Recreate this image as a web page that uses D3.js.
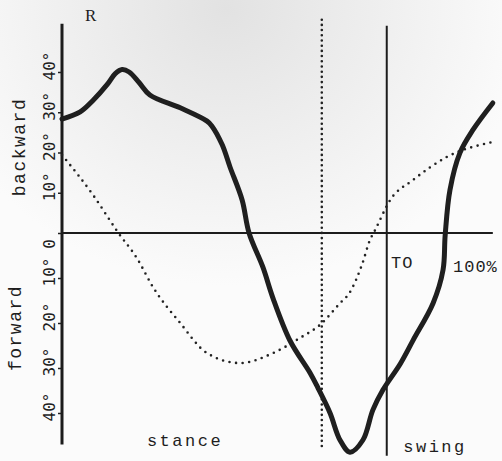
<!DOCTYPE html>
<html>
<head>
<meta charset="utf-8">
<script src="https://cdn.jsdelivr.net/npm/d3@7"></script>
<style>
  body { margin: 0; background: #fff; }
  svg { display: block; }
  text { font-family: "Liberation Mono", "DejaVu Sans Mono", monospace; fill: #1e1e1e; }
</style>
</head>
<body>
<script>
const w = 502;
const h = 461;

// gait cycle in percent, angle in degrees (backward +, forward -)
const thighPct = [0, 4.2, 7.2, 10.5, 12.3, 13.9, 15.5, 17.8, 20.3, 27.3, 33.5, 34.6, 37.0, 38.8, 41.6, 43.2,
                  46.4, 48.7, 52.7, 57.3, 59.1, 61.9, 64.2, 66.5, 69.5, 71.8, 74.1, 78.1, 81.1, 85.7,
                  88.0, 88.5, 89.6, 91.9, 94.9, 99.5];
const thighDeg = [28.3, 30.1, 33.0, 37.0, 39.6, 40.6, 40.0, 37.4, 34.3, 31.1, 27.8, 26.6, 21.9, 16.4, 8.2, 0,
                  -7.6, -14.4, -24.0, -31.1, -34.4, -40.0, -46.0, -48.7, -46.0, -39.3, -34.9, -29.1, -23.8, -15.6,
                  -8.2, -0.4, 10.7, 19.9, 25.6, 32.3];

const dotPct = [0, 7.2, 12.9, 17.3, 21.0, 27.3, 33.5, 41.1, 48.7, 55.0, 59.6, 64.2, 66.4, 69.4, 71.1,
                72.3, 75.8, 81.1, 88.9, 99.5];
const dotDeg = [19.4, 9.4, 0.2, -5.6, -12.0, -20.0, -26.7, -28.9, -26.7, -23.3, -20.4, -15.6, -13.3, -6.7, -1.6,
                0.7, 8.2, 13.2, 18.9, 22.6];

const tickVals = [40, 30, 20, 10, 0, -10, -20, -30, -40];
const tickText = ["40°", "30°", "20°", "10°", "0", "10°", "20°", "30°", "40°"];

const toPct = 75;        // toe off
const dashPct = 60;      // dotted marker
const axisTop = 52;
const axisBottom = -47;

const svg = d3.select("body")
    .append("svg")
    .attr("width", w)
    .attr("height", h);

// paper tone of the scan
const grad = svg.append("defs").append("radialGradient")
    .attr("id", "paper")
    .attr("cx", 0.45).attr("cy", 0.02).attr("r", 0.6);
grad.append("stop").attr("offset", 0).attr("stop-color", "#e2e2e2");
grad.append("stop").attr("offset", 1).attr("stop-color", "#fbfbfb");
svg.append("rect").attr("width", w).attr("height", h).attr("fill", "url(#paper)");

const xScale = d3.scaleLinear()
    .domain([0, 100])
    .range([62, 495]);

const yScale = d3.scaleLinear()
    .domain([-40, 0, 40])
    .range([413, 233, 72]);

// y axis
const yAxis = d3.axisLeft(yScale)
    .tickValues(tickVals)
    .tickSize(4)
    .tickFormat("");

const gy = svg.append("g")
    .attr("transform", "translate(" + xScale(0) + ",0)")
    .call(yAxis);
gy.select(".domain").remove();
gy.selectAll(".tick line").attr("stroke", "#222").attr("stroke-width", 1.5);

svg.append("line")
    .attr("x1", xScale(0)).attr("x2", xScale(0))
    .attr("y1", yScale(axisTop)).attr("y2", yScale(axisBottom))
    .attr("stroke", "#1c1c1c")
    .attr("stroke-width", 3);

svg.selectAll(".ylab")
    .data(tickVals)
    .enter()
    .append("text")
    .attr("class", "ylab")
    .attr("transform", function(d) {
        const off = d === 0 ? 11 : -6;
        return "translate(55," + (yScale(d) + off) + ") rotate(-90)";
    })
    .attr("text-anchor", "middle")
    .style("font-size", "16px")
    .style("font-family", "DejaVu Sans Mono")
    .text(function(d, i) { return tickText[i]; });

// x axis (zero line)
svg.append("line")
    .attr("x1", xScale(0)).attr("x2", xScale(99.5))
    .attr("y1", yScale(0)).attr("y2", yScale(0))
    .attr("stroke", "#1c1c1c")
    .attr("stroke-width", 2);

// dotted marker and toe-off line
svg.append("line")
    .attr("x1", xScale(dashPct)).attr("x2", xScale(dashPct))
    .attr("y1", yScale(53)).attr("y2", yScale(-48.5))
    .attr("stroke", "#222")
    .attr("stroke-width", 2.6)
    .attr("stroke-linecap", "round")
    .attr("stroke-dasharray", "0,5.2");

svg.append("line")
    .attr("x1", xScale(toPct)).attr("x2", xScale(toPct))
    .attr("y1", yScale(51.5)).attr("y2", yScale(-49.5))
    .attr("stroke", "#1c1c1c")
    .attr("stroke-width", 2);

const dotLine = d3.line()
    .x(function(d) { return xScale(d[0]); })
    .y(function(d) { return yScale(d[1]); })
    .curve(d3.curveMonotoneX);

const thighLine = d3.line()
    .x(function(d) { return xScale(d[0]); })
    .y(function(d) { return yScale(d[1]); })
    .curve(d3.curveCatmullRom.alpha(0.5));

svg.append("path")
    .datum(d3.zip(dotPct, dotDeg))
    .attr("d", dotLine)
    .attr("fill", "none")
    .attr("stroke", "#222")
    .attr("stroke-width", 2.6)
    .attr("stroke-linecap", "round")
    .attr("stroke-dasharray", "0,6.6");

svg.append("path")
    .datum(d3.zip(thighPct, thighDeg))
    .attr("d", thighLine)
    .attr("fill", "none")
    .attr("stroke", "#1f1f1f")
    .attr("stroke-width", 5)
    .attr("stroke-linejoin", "round")
    .attr("stroke-linecap", "round");

// labels
svg.append("text")
    .attr("x", 85).attr("y", 21)
    .style("font-family", "Liberation Serif")
    .style("font-size", "17px")
    .text("R");

svg.append("text")
    .attr("transform", "translate(25,147) rotate(-90)")
    .attr("text-anchor", "middle")
    .style("font-size", "18px")
    .style("letter-spacing", "1.5px")
    .text("backward");

svg.append("text")
    .attr("transform", "translate(21,328) rotate(-90)")
    .attr("text-anchor", "middle")
    .style("font-size", "18px")
    .style("letter-spacing", "1.5px")
    .text("forward");

svg.append("text")
    .attr("x", 185).attr("y", 446)
    .attr("text-anchor", "middle")
    .style("font-size", "17px")
    .style("letter-spacing", "2.5px")
    .text("stance");

svg.append("text")
    .attr("x", 435).attr("y", 452)
    .attr("text-anchor", "middle")
    .style("font-size", "17px")
    .style("letter-spacing", "2.5px")
    .text("swing");

svg.append("text")
    .attr("x", 391).attr("y", 268)
    .style("font-size", "17px")
    .style("letter-spacing", "1px")
    .text("TO");

svg.append("text")
    .attr("x", 453).attr("y", 272)
    .style("font-size", "17px")
    .style("letter-spacing", "1px")
    .text("100%");
</script>
</body>
</html>
